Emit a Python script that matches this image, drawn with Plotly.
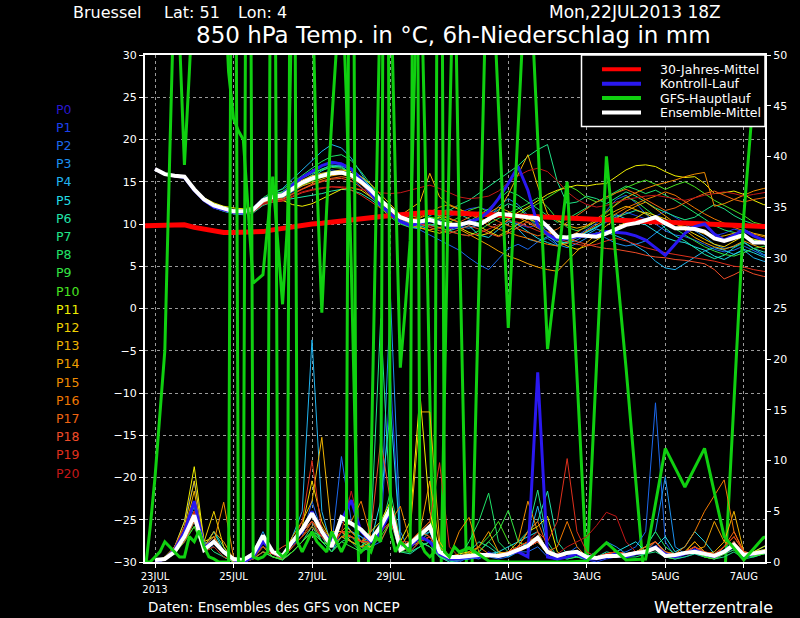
#!/usr/bin/env python3
# GFS ensemble meteogram, Bruessel 22JUL2013 18Z: 850 hPa temperature + 6h precipitation

from datetime import datetime, timedelta
import plotly.graph_objects as go

# ---- data ---------------------------------------------------------------
# 6-hourly ensemble output, 23JUL 00Z ... 7AUG 18Z (64 steps)
t6 = [datetime(2013, 7, 23, 0) + timedelta(hours=6 * i) for i in range(64)]
# climatology, 22JUL 18Z ... 7AUG 18Z
t_clim = [datetime(2013, 7, 22, 18) + timedelta(hours=6 * i) for i in range(65)]
# GFS main run: 3-hourly to 30JUL 18Z, then 12-hourly
t_gfs = ([datetime(2013, 7, 22, 18) + timedelta(hours=3 * i) for i in range(65)] +
         [datetime(2013, 7, 31, 0) + timedelta(hours=12 * i) for i in range(17)])

member_names = ["P%d" % i for i in range(21)]
member_colors = ["#2a18d0", "#1c40ec", "#1c68ec", "#1c90f0", "#20b4f0", "#20dce4", "#20e4a8",
                 "#20e488", "#20e468", "#34e444", "#48e420", "#f0f000", "#f0d200", "#f0b400",
                 "#f0a000", "#f08c00", "#f07800", "#f06410", "#f04c28", "#e0301c", "#c41818"]

clim_temp = [9.8, 9.8, 9.85, 9.9, 9.9, 9.6, 9.4, 9.1,
             9.0, 9.0, 9.0, 9.05, 9.1, 9.3, 9.5, 9.7,
             9.85, 10.0, 10.1, 10.25, 10.4, 10.5, 10.6, 10.75,
             10.9, 11.0, 11.1, 11.25, 11.35, 11.4, 11.35, 11.3,
             11.2, 11.1, 11.05, 11.0, 10.95, 10.9, 10.85, 10.8,
             10.75, 10.7, 10.65, 10.6, 10.55, 10.5, 10.45, 10.4,
             10.4, 10.35, 10.3, 10.25, 10.2, 10.15, 10.1, 10.1,
             10.05, 10.0, 9.95, 9.9, 9.85, 9.8, 9.75, 9.7,
             9.65]

ctrl_temp = [16.5, 15.9, 15.7, 15.5, 14.0, 12.8, 12.0, 11.7,
             11.4, 11.3, 11.8, 12.9, 13.3, 13.5, 14.6, 15.5,
             16.2, 16.9, 17.3, 17.1, 16.5, 15.2, 13.6, 12.2,
             11.2, 10.3, 9.8, 10.1, 10.4, 10.2, 9.6, 9.7,
             10.3, 10.6, 11.5, 13.0, 14.8, 16.8, 14.0, 9.8,
             8.8, 8.1, 8.3, 8.5, 8.6, 8.8, 9.1, 9.0,
             8.9, 8.6, 8.1, 7.2, 6.3, 7.6, 8.9, 9.7,
             10.0, 8.8, 8.1, 8.7, 9.3, 8.6, 8.1, 8.0]

mean_temp = [16.5, 15.9, 15.7, 15.6, 14.1, 12.9, 12.2, 11.8,
             11.5, 11.5, 11.7, 12.8, 13.2, 13.4, 14.2, 14.9,
             15.4, 15.7, 16.0, 16.1, 15.8, 15.0, 14.0, 12.8,
             11.8, 10.8, 10.4, 10.3, 10.5, 10.1, 9.9, 9.9,
             10.2, 9.9, 10.6, 11.2, 11.1, 10.9, 10.8, 10.7,
             9.7, 8.5, 8.4, 8.7, 8.6, 8.5, 8.9, 9.4,
             9.9, 10.1, 10.5, 10.8, 10.1, 9.5, 9.5, 9.4,
             9.1, 8.3, 8.0, 8.3, 8.7, 7.8, 7.8, 7.6]

member_temp = [
    # P1
    [16.4, 15.9, 15.8, 15.6, 14.2, 13.0, 12.1, 11.7, 11.6, 11.4, 11.9, 12.9, 13.4, 13.8, 14.8, 15.6,
     16.3, 16.9, 17.4, 17.2, 16.6, 15.6, 14.2, 12.6, 11.4, 10.6, 10.1, 9.8, 10.2, 10.5, 10.9, 11.3,
     11.8, 12.0, 11.6, 11.2, 10.5, 10.0, 9.6, 9.9, 9.4, 8.6, 8.1, 8.4, 9.0, 9.6, 10.2, 10.9,
     11.4, 11.0, 10.6, 10.9, 11.5, 10.8, 10.1, 9.6, 9.0, 8.6, 8.9, 9.4, 9.1, 8.6, 8.2, 8.0],
    # P2
    [16.6, 15.9, 15.6, 15.5, 14.0, 12.8, 12.3, 11.9, 11.4, 11.6, 11.8, 12.6, 13.0, 13.1, 13.8, 14.6,
     15.2, 15.9, 16.4, 16.2, 15.4, 14.4, 13.2, 12.0, 11.3, 10.6, 9.9, 9.3, 8.7, 8.1, 7.5, 6.9,
     6.0, 5.2, 4.6, 5.8, 7.1, 7.6, 7.0, 7.9, 8.3, 7.5, 7.9, 8.6, 9.4, 10.1, 11.6, 12.9,
     13.4, 12.5, 11.2, 10.0, 9.2, 8.7, 8.5, 8.1, 7.6, 7.0, 6.7, 6.9, 7.4, 6.8, 6.3, 6.0],
    # P3
    [16.5, 15.8, 15.7, 15.7, 14.2, 12.9, 12.2, 11.8, 11.6, 11.5, 11.6, 12.5, 13.3, 13.5, 14.3, 15.1,
     15.8, 16.5, 17.0, 16.8, 16.0, 14.9, 13.6, 12.3, 11.2, 10.2, 9.6, 9.4, 9.8, 10.3, 10.1, 9.7,
     9.5, 9.9, 10.6, 12.1, 13.0, 12.3, 11.0, 9.8, 8.7, 7.6, 7.2, 7.7, 8.4, 9.0, 8.3, 7.7,
     7.4, 7.6, 8.0, 8.9, 9.8, 10.4, 10.0, 9.2, 8.5, 7.6, 7.1, 7.3, 7.9, 7.1, 6.4, 6.2],
    # P4
    [16.6, 16.0, 15.7, 15.6, 14.1, 12.8, 12.0, 11.6, 11.2, 11.3, 11.6, 12.9, 13.6, 14.2, 15.3, 16.4,
     17.5, 18.6, 19.4, 19.0, 17.8, 16.0, 14.2, 12.4, 11.0, 10.1, 9.6, 9.7, 9.9, 9.5, 9.2, 9.6,
     10.1, 9.8, 10.4, 11.0, 10.6, 9.4, 8.2, 7.9, 8.5, 8.0, 7.7, 8.1, 8.8, 9.4, 9.0, 8.6,
     8.1, 7.4, 6.7, 5.6, 4.8, 4.6, 5.3, 6.1, 6.8, 7.2, 6.9, 6.4, 6.9, 6.0, 5.6, 5.4],
    # P5
    [16.4, 15.8, 15.6, 15.6, 14.0, 12.7, 11.9, 11.5, 11.2, 11.1, 11.5, 12.7, 13.1, 13.2, 13.9, 14.7,
     15.6, 16.3, 16.8, 16.9, 16.4, 15.5, 14.4, 13.0, 11.9, 10.9, 10.5, 10.4, 10.8, 10.3, 9.9, 9.4,
     9.8, 8.7, 8.4, 9.4, 10.3, 9.9, 9.1, 8.3, 7.8, 7.4, 7.9, 8.5, 9.0, 9.6, 10.4, 11.1,
     10.6, 10.2, 9.9, 9.1, 8.4, 8.0, 7.8, 7.3, 6.9, 6.2, 5.8, 6.4, 7.0, 6.6, 6.1, 5.9],
    # P6
    [16.5, 15.9, 15.7, 15.5, 14.1, 12.9, 12.3, 11.9, 11.3, 11.2, 11.3, 12.2, 12.6, 12.8, 13.0, 13.2,
     13.4, 13.6, 13.9, 14.1, 14.0, 13.6, 12.9, 12.0, 11.1, 10.4, 9.9, 10.3, 11.0, 11.5, 11.7, 11.2,
     10.6, 10.1, 10.8, 11.7, 12.4, 12.0, 10.8, 9.6, 8.6, 7.9, 7.8, 8.4, 9.1, 9.7, 10.3, 10.8,
     11.2, 11.6, 11.3, 10.6, 9.5, 8.6, 8.0, 7.2, 6.4, 5.9, 6.3, 7.2, 7.8, 7.1, 6.7, 6.5],
    # P7
    [16.5, 15.9, 15.8, 15.7, 14.2, 13.0, 12.4, 12.0, 11.7, 11.6, 11.9, 13.0, 13.5, 13.8, 14.6, 15.4,
     16.0, 16.5, 16.9, 16.7, 16.0, 15.1, 14.2, 13.0, 11.9, 10.9, 10.3, 10.0, 10.4, 10.9, 11.6, 12.3,
     12.8, 13.6, 14.5, 15.2, 16.0, 16.9, 18.0, 18.8, 19.4, 15.0, 12.4, 12.6, 13.3, 13.0, 12.4, 13.1,
     13.8, 13.3, 12.6, 11.9, 11.4, 10.9, 10.5, 10.8, 11.6, 12.3, 11.8, 11.0, 10.4, 10.0, 9.8, 9.6],
    # P8
    [16.5, 15.9, 15.7, 15.6, 14.1, 13.0, 12.3, 11.9, 11.6, 11.6, 11.9, 13.1, 13.8, 14.1, 14.9, 15.8,
     16.6, 17.4, 18.0, 18.2, 17.5, 16.2, 14.7, 13.1, 11.8, 10.6, 10.1, 10.2, 10.6, 10.4, 10.0, 9.8,
     10.3, 11.0, 11.8, 12.9, 13.9, 13.4, 12.6, 11.7, 10.9, 10.2, 10.6, 11.3, 11.9, 12.6, 13.2, 13.9,
     14.5, 14.1, 13.6, 14.0, 13.4, 12.8, 12.1, 11.4, 10.6, 9.8, 9.3, 9.0, 8.5, 8.1, 7.9, 7.7],
    # P9
    [16.5, 15.9, 15.7, 15.6, 14.1, 12.9, 12.2, 11.8, 11.5, 11.5, 11.8, 13.0, 13.5, 13.8, 14.7, 15.5,
     16.0, 16.4, 16.7, 16.6, 16.0, 14.9, 13.4, 11.9, 10.8, 10.0, 9.6, 9.6, 10.0, 9.6, 9.2, 8.8,
     8.6, 9.2, 10.0, 10.7, 11.3, 11.8, 12.4, 13.1, 12.0, 10.6, 9.6, 9.2, 9.6, 10.4, 11.3, 12.4,
     13.2, 12.7, 11.8, 10.9, 10.2, 9.4, 8.7, 8.0, 7.3, 6.8, 6.4, 6.2, 6.6, 7.1, 7.4, 7.6],
    # P10
    [16.5, 15.9, 15.7, 15.6, 14.1, 12.9, 12.2, 11.8, 11.5, 11.4, 11.6, 12.6, 13.0, 13.2, 13.9, 14.6,
     15.1, 15.5, 15.8, 15.9, 15.6, 14.9, 14.0, 12.9, 11.9, 11.0, 10.5, 10.4, 10.8, 10.6, 10.2, 10.8,
     11.6, 12.0, 11.4, 10.9, 10.6, 11.0, 11.8, 12.4, 13.1, 13.9, 14.6, 14.0, 13.1, 12.6, 13.0, 13.7,
     14.3, 14.8, 15.2, 14.7, 14.1, 14.6, 15.0, 14.4, 13.6, 12.8, 12.2, 11.6, 11.0, 10.2, 9.9, 9.6],
    # P11
    [16.6, 16.0, 15.8, 15.7, 14.3, 13.1, 12.5, 12.1, 11.9, 11.8, 12.0, 12.9, 13.0, 12.8, 12.3, 12.1,
     12.4, 13.0, 13.6, 14.1, 14.3, 14.0, 13.2, 12.4, 11.6, 10.8, 10.1, 9.9, 10.4, 10.8, 10.3, 9.6,
     9.0, 8.6, 8.9, 9.7, 10.6, 11.4, 12.0, 12.8, 13.5, 14.0, 14.3, 14.6, 14.5, 14.7, 14.8, 15.6,
     16.4, 16.9, 17.0, 16.8, 16.2, 15.7, 15.5, 15.6, 14.8, 13.6, 13.7, 13.9, 13.5, 12.8, 12.3, 12.1],
    # P12
    [16.5, 15.9, 15.7, 15.6, 14.2, 13.0, 12.3, 11.9, 11.6, 11.5, 11.8, 12.9, 13.4, 13.6, 14.5, 15.2,
     15.7, 16.0, 16.2, 16.4, 16.2, 15.6, 14.7, 13.5, 12.3, 11.1, 10.2, 9.6, 9.2, 8.9, 9.3, 9.9,
     10.4, 9.7, 9.1, 8.6, 9.2, 10.0, 10.6, 10.2, 9.0, 8.0, 7.4, 7.0, 7.4, 8.1, 8.9, 9.6,
     10.2, 10.7, 11.4, 11.0, 10.6, 10.1, 9.4, 8.8, 8.2, 7.6, 7.3, 7.9, 8.6, 8.2, 7.9, 7.7],
    # P13
    [16.4, 15.8, 15.6, 15.5, 14.0, 12.8, 12.1, 11.7, 11.4, 11.4, 11.6, 12.7, 13.1, 13.3, 14.0, 14.7,
     15.2, 15.6, 16.0, 16.0, 15.6, 14.8, 13.8, 12.6, 11.7, 11.0, 11.8, 12.6, 16.0, 13.2, 12.2, 11.7,
     11.3, 10.8, 10.2, 11.5, 13.5, 15.8, 18.2, 14.5, 11.2, 10.4, 9.8, 9.5, 9.8, 10.3, 10.9, 11.6,
     12.1, 11.7, 11.2, 10.7, 10.3, 10.0, 9.7, 9.3, 8.8, 8.4, 8.6, 8.9, 9.3, 8.9, 8.6, 8.4],
    # P14
    [16.6, 16.0, 15.7, 15.6, 14.1, 12.9, 12.2, 11.8, 11.5, 11.6, 11.9, 12.9, 13.2, 13.3, 13.9, 14.5,
     14.9, 15.3, 15.7, 15.9, 15.6, 14.7, 13.5, 12.3, 11.2, 10.3, 9.9, 9.5, 9.3, 9.6, 9.9, 9.4,
     8.8, 8.1, 7.5, 6.8, 6.2, 5.8, 5.3, 4.9, 4.6, 4.4, 5.6, 6.8, 7.8, 8.8, 9.8, 10.6,
     11.5, 12.1, 12.6, 11.8, 10.9, 10.1, 9.3, 8.4, 7.8, 7.3, 7.0, 7.4, 8.0, 7.5, 7.1, 6.9],
    # P15
    [16.5, 15.9, 15.7, 15.6, 14.0, 12.8, 12.0, 11.6, 11.3, 11.4, 11.7, 12.8, 13.3, 13.5, 14.2, 14.9,
     15.5, 15.8, 16.0, 16.1, 15.9, 15.1, 14.1, 12.9, 11.9, 11.0, 10.5, 10.7, 11.2, 11.0, 10.6, 10.2,
     10.0, 10.6, 11.3, 12.0, 11.5, 10.8, 10.1, 9.5, 9.0, 8.6, 8.4, 9.0, 9.8, 10.6, 11.4, 12.2,
     13.1, 13.7, 14.2, 14.6, 14.9, 15.2, 15.6, 15.9, 16.1, 12.1, 12.4, 12.9, 13.4, 13.9, 14.2, 14.4],
    # P16
    [16.5, 15.9, 15.7, 15.6, 14.1, 12.9, 12.2, 11.8, 11.5, 11.5, 11.7, 12.8, 13.2, 13.4, 14.2, 14.9,
     15.4, 15.7, 16.0, 16.1, 15.8, 15.0, 14.0, 12.8, 11.8, 10.9, 10.6, 10.8, 11.4, 12.0, 12.3, 11.8,
     11.2, 10.6, 9.8, 9.4, 9.0, 8.6, 8.3, 7.9, 7.6, 7.4, 7.7, 8.5, 9.2, 9.9, 10.6, 11.2,
     11.9, 12.4, 12.9, 13.3, 13.8, 13.4, 12.6, 11.9, 11.2, 10.6, 10.1, 9.6, 9.2, 8.8, 8.5, 8.3],
    # P17
    [16.4, 15.8, 15.6, 15.5, 14.0, 12.8, 12.1, 11.7, 11.4, 11.4, 11.6, 12.6, 12.9, 13.0, 13.6, 14.2,
     14.7, 15.1, 15.4, 15.6, 15.4, 14.7, 13.8, 12.7, 11.8, 11.1, 10.8, 11.0, 11.6, 11.2, 10.7, 10.2,
     10.8, 11.4, 10.9, 10.3, 9.8, 9.4, 9.0, 8.6, 8.9, 9.4, 10.2, 11.0, 11.9, 12.6, 13.2, 13.7,
     14.1, 13.6, 12.9, 12.2, 11.6, 11.9, 12.5, 13.1, 13.6, 13.9, 13.4, 12.9, 12.6, 12.9, 13.1, 13.3],
    # P18
    [16.6, 16.0, 15.8, 15.6, 14.1, 12.9, 12.1, 11.6, 11.3, 11.3, 11.5, 12.5, 12.8, 12.9, 13.5, 14.1,
     14.6, 15.0, 15.3, 15.4, 15.1, 14.3, 13.3, 12.2, 11.3, 10.6, 10.3, 10.0, 9.6, 9.2, 8.9, 9.3,
     9.8, 9.4, 8.9, 8.5, 8.9, 9.6, 10.3, 9.7, 9.1, 8.7, 8.3, 7.9, 7.6, 7.3, 7.1, 7.0,
     6.8, 6.6, 6.3, 6.1, 6.0, 5.8, 5.7, 5.5, 5.3, 4.6, 3.5, 4.0, 4.6, 4.1, 3.8, 3.7],
    # P19
    [16.5, 15.9, 15.6, 15.5, 14.0, 12.7, 12.0, 11.6, 11.3, 11.2, 11.4, 12.3, 12.6, 12.7, 13.2, 13.7,
     14.0, 14.2, 14.4, 14.3, 14.0, 13.4, 12.6, 11.8, 11.1, 10.6, 10.2, 10.0, 9.8, 9.5, 9.1, 8.8,
     8.6, 8.9, 9.4, 9.9, 10.4, 10.2, 9.7, 9.2, 8.8, 8.3, 7.9, 7.6, 7.4, 7.6, 8.0, 8.3,
     8.0, 7.6, 7.2, 6.9, 6.6, 6.4, 6.2, 6.0, 5.8, 5.6, 5.3, 5.0, 4.9, 4.6, 4.4, 4.3],
    # P20
    [16.5, 15.9, 15.7, 15.5, 14.0, 12.8, 12.0, 11.6, 11.3, 11.3, 11.5, 12.4, 12.7, 12.8, 13.3, 13.8,
     14.1, 14.3, 14.4, 14.4, 14.3, 14.1, 13.9, 13.7, 13.6, 13.7, 14.0, 14.3, 14.6, 14.2, 13.7, 13.2,
     13.0, 13.1, 13.3, 13.9, 14.9, 15.7, 16.3, 16.6, 16.2, 15.1, 13.8, 12.9, 12.3, 12.0, 12.2, 12.6,
     12.9, 13.1, 13.3, 13.4, 13.2, 13.0, 12.8, 13.1, 13.4, 13.6, 13.8, 13.6, 13.3, 13.5, 13.7, 13.9],
]

ctrl_prec = [0, 0.3, 1.2, 3, 6, 1.5, 2, 1, 0.2, 0, 0.5, 2, 1, 0.5, 2, 3,
             5, 3, 2, 4, 6.1, 3, 2, 3, 5, 1.5, 1.5, 2.5, 2, 0.8, 0.3, 0.3,
             0.5, 0.5, 0.8, 0.5, 0.8, 1, 0.5, 18.7, 0.5, 0.3, 0.5, 0.8, 0.3, 0.3, 0.5, 0.8,
             0.5, 0.8, 1, 1.5, 0.8, 0.5, 0.8, 1.2, 0.8, 0.5, 1, 1.5, 0.5, 0.8, 1, 1.2]

mean_prec = [0.2, 0.3, 1.0, 2.5, 4.6, 1.2, 2.0, 1.0, 0.3, 0.2, 0.8, 2.6, 1.0, 0.6, 2.0, 3.2,
             4.8, 3.0, 1.5, 4.4, 3.8, 3.2, 2.2, 3.5, 5.3, 1.2, 1.8, 2.6, 3.5, 1.0, 0.5, 0.5,
             0.6, 0.7, 0.7, 0.6, 0.8, 1.2, 1.6, 2.4, 1.0, 0.6, 0.9, 1.0, 0.5, 0.4, 0.6, 0.6,
             0.7, 0.9, 1.0, 1.4, 0.6, 0.7, 0.9, 1.0, 0.8, 0.6, 1.0, 1.7, 0.7, 0.9, 1.0, 1.1]

member_prec = [
    # P1
    [0, 0.2, 1.5, 4, 8, 2, 1.5, 0.5, 0, 0, 0.5, 1.5, 0.8, 0.3, 1.5, 3,
     4, 2.5, 1, 3, 2, 1.5, 1, 3, 18, 2, 1, 1.5, 2, 0.5, 0, 0.2,
     0.3, 0.5, 1, 0.5, 0.8, 1, 1.5, 2, 0.8, 0.3, 0.5, 0.8, 0.2, 0, 0.3, 0.5,
     0.5, 0.8, 1, 1.5, 0.5, 0.3, 0.5, 0.8, 0.5, 0.3, 0.8, 1.2, 0.5, 0.6, 0.8, 1],
    # P2
    [0, 0.3, 1, 3, 6, 1, 2, 1, 0.2, 0, 0.3, 2, 1, 0.5, 1.5, 2.5,
     6, 3, 1.5, 10.4, 4, 2, 1.5, 2, 4, 1, 1.5, 2, 1.5, 0.5, 0.2, 0,
     0.5, 0.8, 0.5, 0.3, 0.5, 1, 1, 1.5, 0.5, 0.2, 0.8, 1.5, 0.5, 0.3, 0.5, 0.8,
     1, 1.5, 3, 15.7, 2, 0.5, 0.8, 1.2, 0.8, 0.5, 1, 1.5, 0.5, 0.8, 1, 0.8],
    # P3
    [0, 0.2, 0.8, 2.5, 5, 1.5, 2.5, 1, 0, 0.3, 1, 3, 1, 0.5, 2, 3.5,
     5, 3, 2, 4.5, 3, 2.5, 2, 4, 26, 3, 1, 2, 2.5, 0.8, 0.3, 0.5,
     0.5, 0.3, 0.8, 0.5, 1, 1.2, 2, 2.5, 1, 0.5, 0.8, 1, 0.5, 1, 2, 1.5,
     0.8, 1, 1.5, 3, 8.4, 1.5, 0.8, 1, 0.5, 0.8, 1.2, 2, 0.8, 1, 1.2, 1.5],
    # P4
    [0, 0.3, 1.2, 3, 5.5, 1, 2, 0.8, 0, 0, 0.5, 2.5, 0.8, 0.3, 2.5, 5,
     21.9, 5, 1.5, 4, 3, 2.5, 1.5, 3, 6, 1.5, 1, 2, 3, 0.5, 0.3, 0.2,
     0.3, 0.5, 0.8, 1, 0.5, 1, 2, 5.5, 1.5, 0.5, 0.5, 1, 0.3, 0.5, 0.5, 1,
     0.5, 0.8, 1, 2, 1, 0.5, 0.8, 1.5, 1, 0.5, 1, 1.5, 0.5, 0.8, 1, 1.2],
    # P5
    [0, 0.2, 1, 2.5, 4.5, 1.5, 3, 1, 0.3, 0, 0.8, 2, 1, 0.5, 2, 3,
     5, 3, 2, 3, 4, 3, 2, 6, 15, 2, 1.5, 2.5, 3, 1, 0.3, 0.5,
     0.8, 0.5, 0.5, 1, 1.5, 2, 2.5, 3, 1, 0.5, 0.8, 1, 0.5, 0.3, 0.8, 1,
     1.5, 2, 1, 1.5, 2.5, 1, 1.5, 3, 2, 0.8, 1, 1.5, 0.8, 1, 1.5, 2],
    # P6
    [0, 0.3, 1, 2, 4, 1.5, 3, 1.5, 0, 0.2, 0.5, 1.5, 0.5, 0.3, 1, 2,
     3, 2, 1, 2.5, 2, 1.5, 2.5, 3, 5, 1, 0.8, 1.5, 2, 0.5, 0.2, 0.3,
     1, 2, 1.5, 0.8, 1, 2, 3, 4, 7, 2, 0.8, 0.5, 0.3, 0.5, 1, 0.8,
     0.5, 0.8, 1, 1.5, 0.8, 0.5, 1, 1.5, 0.8, 0.5, 1, 2, 0.8, 0.5, 0.8, 1],
    # P7
    [0, 0.2, 1.2, 3, 5, 2, 1, 0.5, 0, 0, 0.3, 1, 0.5, 0.2, 1, 2,
     3.5, 2, 1, 2, 2.5, 1.5, 3, 24, 5, 1.5, 1, 2, 1.5, 0.5, 0, 0.2,
     0.5, 1, 2, 1, 0.8, 1.5, 3, 7.1, 2, 0.5, 0.3, 0.5, 0.2, 0.3, 0.5, 0.8,
     0.5, 0.5, 0.8, 1, 0.5, 0.3, 0.5, 0.8, 0.5, 0.3, 0.5, 1, 0.3, 0.5, 0.8, 1],
    # P8
    [0, 0.3, 1, 2.5, 4, 1, 2, 1, 0.2, 0, 0.5, 1.5, 1, 0.5, 1.5, 2.5,
     4, 2, 1.5, 3, 2, 1, 1.5, 3, 7, 2, 1, 1.5, 2, 0.5, 0.3, 0.5,
     2, 4, 6.8, 2, 1, 1, 1.5, 2, 1, 0.5, 0.3, 0.5, 0.3, 0.5, 0.8, 1,
     0.8, 1, 1.5, 3, 1.5, 0.8, 1, 1.5, 0.8, 0.5, 1, 1.5, 0.5, 0.8, 1, 1.2],
    # P9
    [0, 0.2, 0.8, 2, 3.5, 1, 1.5, 0.5, 0, 0, 0.3, 1, 0.5, 0.2, 1, 2,
     3, 2.5, 1, 2, 1.5, 1, 2, 3, 5, 1, 1, 2, 1.5, 0.5, 0.2, 0.3,
     0.5, 1, 2, 3, 5.1, 2, 1.5, 2.5, 1, 0.5, 0.5, 0.8, 0.3, 0.5, 0.8, 1,
     0.5, 0.8, 1, 1.5, 0.5, 0.3, 0.8, 1, 0.5, 0.3, 0.8, 1.2, 0.5, 0.6, 0.8, 1],
    # P10
    [0, 0.2, 1, 2, 3.5, 1.5, 2, 0.8, 0, 0, 0.3, 1.5, 0.5, 0.3, 1, 2,
     3, 2, 1.5, 2.5, 3, 2, 1.5, 2.5, 4, 1, 1.5, 2.5, 2, 0.8, 0.3, 0.2,
     0.5, 1.5, 2.5, 4, 2, 1, 1.5, 2, 0.8, 0.5, 0.5, 0.8, 0.3, 0.3, 0.5, 0.8,
     0.5, 0.8, 1, 1.5, 0.8, 0.5, 0.8, 1.2, 0.5, 0.3, 0.8, 1.5, 0.5, 0.6, 0.8, 1],
    # P11
    [0, 0.5, 1.5, 4, 9.4, 2, 2.5, 1, 0, 0.3, 0.5, 2, 1, 0.5, 2, 3,
     4, 3, 2, 4, 3, 2, 3, 4, 6, 2, 4, 16.6, 5, 1, 0.5, 0.8,
     1, 0.5, 0.8, 0.5, 0.8, 1.5, 3, 3.5, 4.5, 1, 0.5, 0.8, 0.3, 0.5, 0.5, 0.8,
     0.5, 0.8, 1, 1.5, 0.8, 0.5, 1, 2, 1, 0.5, 1, 1.5, 0.8, 1, 1.5, 2],
    # P12
    [0, 0.3, 1.5, 3.5, 8, 2, 5, 1.5, 0.3, 0, 0.5, 2, 1, 0.5, 2, 3.5,
     8, 4, 2, 3, 2.5, 2, 2, 3, 5, 1.5, 2, 3, 4, 1, 0.5, 0.5,
     0.8, 0.5, 0.5, 0.8, 1, 1.5, 2, 2.5, 1, 0.5, 0.8, 1, 0.5, 0.3, 0.5, 0.8,
     0.5, 1, 1.5, 2, 1, 0.5, 0.8, 1.5, 0.8, 0.5, 1, 2, 0.8, 1, 1.2, 1.5],
    # P13
    [0, 0.3, 1.2, 3, 7, 1.5, 2, 1, 0, 0, 0.5, 2, 1, 0.5, 2.5, 4,
     6, 12.3, 3, 3, 2, 1.5, 1.5, 3, 5, 1.5, 3, 14.8, 14.8, 2, 0.5, 0.5,
     0.5, 0.5, 0.8, 0.5, 0.8, 1, 1.5, 2, 0.8, 0.5, 0.5, 0.8, 0.3, 0.5, 0.8, 1,
     0.8, 1, 1.2, 1.5, 0.8, 0.5, 0.8, 1, 0.8, 1, 2, 5, 1, 0.8, 1, 1.5],
    # P14
    [0, 0.2, 1, 2.5, 5, 1.5, 3, 2, 0.3, 0, 0.5, 1.5, 0.8, 0.5, 1.5, 2.5,
     4, 3, 1.5, 2.5, 2, 1.5, 2, 3, 4, 1.5, 2, 3, 8, 1.5, 0.5, 0.5,
     0.8, 1.5, 3, 1, 0.8, 1, 1.5, 2, 1, 0.5, 0.5, 0.8, 0.5, 0.3, 0.5, 0.8,
     0.5, 0.8, 1, 1.5, 0.8, 0.5, 0.8, 1.2, 1.5, 4, 2, 1.5, 0.8, 0.8, 1, 1.2],
    # P15
    [0, 0.3, 1, 3, 6, 1.5, 2, 5.9, 0.5, 0, 0.5, 2, 1, 0.5, 2, 3,
     5, 3.5, 2, 3, 2.5, 2, 2.5, 3, 4, 5.5, 2, 2, 2.5, 1, 0.5, 3,
     4.4, 1, 0.5, 0.8, 1, 2, 6, 3, 1, 0.5, 0.5, 0.8, 0.5, 0.3, 0.8, 1,
     0.5, 0.8, 1, 1.5, 0.8, 0.5, 1, 2, 1, 0.8, 1.5, 2.5, 1, 0.8, 1, 1.2],
    # P16
    [0, 0.2, 1, 2.5, 4.5, 1, 2, 1, 0.2, 0, 0.5, 1.5, 0.8, 0.3, 1.5, 2.5,
     3.5, 2.5, 1.5, 3, 4, 6, 2.5, 2, 4, 2, 1.5, 2, 2.5, 1, 0.3, 0.5,
     1, 1.5, 0.8, 0.5, 1, 1.5, 2, 2.5, 1, 1.5, 4, 1.5, 0.5, 0.3, 0.5, 0.8,
     0.5, 0.8, 1, 1.5, 1, 0.8, 1.5, 3, 5, 6.5, 8.1, 3, 1, 0.8, 1, 1.2],
    # P17
    [0, 0.3, 1.2, 3, 5, 1.5, 2.5, 1, 0.3, 0.2, 1, 2.4, 1, 0.5, 2, 3,
     4.5, 3, 1.5, 2.5, 2.5, 2, 2, 3, 5, 1.5, 2, 3, 2.5, 1, 0.5, 0.5,
     0.5, 0.5, 0.8, 0.5, 1, 1.5, 3, 4, 1.5, 0.5, 0.8, 1, 0.5, 0.5, 0.8, 1,
     0.8, 1, 1.5, 2, 1, 0.8, 1, 1.5, 0.8, 0.5, 1.5, 3, 1, 0.8, 1, 1.5],
    # P18
    [0, 0.2, 1, 2, 4, 1.5, 2, 1, 0.2, 0, 0.3, 1, 0.8, 1.5, 2, 3,
     4, 2.5, 1.5, 3, 3, 2, 3, 12, 6, 2, 1, 2, 2.5, 1, 0.3, 0.5,
     0.5, 0.5, 0.8, 0.5, 0.8, 1, 1.5, 2, 1, 0.5, 0.5, 1, 0.5, 0.5, 0.8, 1,
     0.8, 1, 1.2, 2, 0.8, 0.5, 1, 1.5, 0.8, 0.5, 1, 2, 0.8, 0.8, 1, 1.2],
    # P19
    [0, 0.3, 1.5, 3.5, 6, 1.5, 2, 1, 0.3, 0, 0.5, 2, 1, 0.5, 2, 4,
     10, 3, 2, 3, 2.5, 2, 2, 3, 5, 2, 2, 3, 4, 9.8, 1.5, 0.5,
     0.5, 0.5, 0.8, 0.5, 1, 1.5, 2, 3, 2, 4, 10.2, 3, 1, 0.5, 0.8, 1,
     0.8, 1, 1, 1.5, 0.8, 0.5, 1, 1.5, 1, 0.8, 1.5, 2.5, 1, 0.8, 1, 1.2],
    # P20
    [0, 0.2, 1, 2.5, 5, 1, 1.5, 0.5, 0.2, 0, 0.3, 1.5, 0.8, 0.5, 1.5, 2.5,
     4, 2.5, 1.5, 3, 7, 3, 2, 3, 4, 1.5, 1, 2, 2.5, 1, 0.5, 0.5,
     0.5, 0.5, 0.8, 0.5, 0.8, 1, 1.5, 2, 1, 0.8, 1.5, 2, 2.5, 3.6, 4.9, 4.5,
     2, 1, 1, 1.5, 0.8, 0.5, 0.8, 1.2, 0.8, 0.5, 1, 2, 0.8, 0.8, 1, 1.2],
]

# GFS main run (as plotted: temperature curve and precipitation curve)
gfs_temp = [-31, -26, -20, -13, -5, 18, 40, 32, 17, 28,
            40, 45, 45, 45, 45, 45, 40, 28, 22.5, 21,
            20, 11, 3, 3.5, 4, 10, 15.6, 8, 0.5, 10,
            40, 45, 45, 45, 40, 15, -0.5, 12, 22, 30,
            40, 25, 5, -20, -40, -40, -20, 10, 40, 45,
            40, 15, -7, 0, 8, 30, 45, 20, -10, -40,
            -40, -10, 20, 45, 10,
            -45, 50, -2.3, 45, -4.8, 15, -31, 18, -7, -34,
            -45, -45, -45, -33, 11, 40, 60]

gfs_prec = [0, 0, 0.5, 1, 2, 1.5, 1, 0.5, 0.5, 2.5,
            2, 3.1, 1.5, 0.5, 0.3, 0, 0, 0, 120, 0,
            0, 120, 0.5, 0.3, 0.5, 1, 120, 1, 0.5, 1,
            120, 2, 1, 2, 3, 2, 1.5, 1, 3, 2,
            1, 2, 120, 2, 1, 1.5, 1, 2.5, 2, 120,
            3, 1, 2, 1.5, 1, 120, 2, 1, 0.5, 1,
            120, 1, 0.5, 1.5, 1,
            1.4, 0.1, 0, 0, 0, 0, 0.1, 1.9, 0.2, 0.3,
            11.2, 7.4, 11.2, 2.5, 0.2, 2.4, 3]

tick_dates = ["2013-07-23", "2013-07-25", "2013-07-27", "2013-07-29",
              "2013-08-01", "2013-08-03", "2013-08-05", "2013-08-07"]
tick_text = ["23JUL<br>2013", "25JUL", "27JUL", "29JUL", "1AUG", "3AUG", "5AUG", "7AUG"]

legend_names = ["30-Jahres-Mittel", "Kontroll-Lauf", "GFS-Hauptlauf", "Ensemble-Mittel"]
legend_colors = ["#ff0000", "#2a18f0", "#10d010", "#ffffff"]

for lst in member_temp + member_prec + [ctrl_temp, mean_temp, ctrl_prec, mean_prec]:
    assert len(lst) == 64, len(lst)
assert len(gfs_temp) == len(t_gfs) and len(gfs_prec) == len(t_gfs)

# ---- figure -------------------------------------------------------------
FONT = "DejaVu Sans"
L, R, T, B = 145, 765, 55, 562


def px(x):
    return (x - L) / (R - L)


def py(y):
    return (B - y) / (B - T)


fig = go.Figure()

# ensemble member temperatures
for name, col, vals in zip(member_names[1:], member_colors[1:], member_temp):
    fig.add_trace(go.Scatter(x=t6, y=vals, mode="lines", line=dict(color=col, width=1),
                             name=name, hoverinfo="skip"))

fig.add_trace(go.Scatter(x=t_clim, y=clim_temp, mode="lines",
                         line=dict(color="#ff0000", width=5), hoverinfo="skip"))
fig.add_trace(go.Scatter(x=t6, y=ctrl_temp, mode="lines",
                         line=dict(color="#2a18f0", width=3), hoverinfo="skip"))
fig.add_trace(go.Scatter(x=t6, y=mean_temp, mode="lines",
                         line=dict(color="#ffffff", width=4), hoverinfo="skip"))
fig.add_trace(go.Scatter(x=t_gfs, y=gfs_temp, mode="lines",
                         line=dict(color="#10d010", width=3), hoverinfo="skip"))

# precipitation on the right axis
for name, col, vals in zip(member_names[1:], member_colors[1:], member_prec):
    fig.add_trace(go.Scatter(x=t6, y=vals, mode="lines", line=dict(color=col, width=1),
                             name=name, yaxis="y2", hoverinfo="skip"))
fig.add_trace(go.Scatter(x=t6, y=ctrl_prec, mode="lines", yaxis="y2",
                         line=dict(color="#2a18f0", width=3), hoverinfo="skip"))
fig.add_trace(go.Scatter(x=t6, y=mean_prec, mode="lines", yaxis="y2",
                         line=dict(color="#ffffff", width=4), hoverinfo="skip"))
fig.add_trace(go.Scatter(x=t_gfs, y=gfs_prec, mode="lines", yaxis="y2",
                         line=dict(color="#10d010", width=3), hoverinfo="skip"))

axis_common = dict(showline=True, linecolor="white", linewidth=2, ticks="outside",
                   ticklen=4, tickcolor="white", tickwidth=1, zeroline=False,
                   tickfont=dict(family=FONT, size=11, color="white"))

fig.update_layout(
    width=800, height=618,
    margin=dict(l=L, r=800 - R, t=T, b=618 - B),
    paper_bgcolor="black", plot_bgcolor="black",
    showlegend=False,
    xaxis=dict(axis_common, type="date",
               range=["2013-07-22 17:53", "2013-08-07 12:58"],
               tickvals=tick_dates, ticktext=tick_text, mirror=True,
               showgrid=True, gridcolor="#9a9a9a", griddash="dot", gridwidth=1,
               tickfont=dict(family=FONT, size=10, color="white")),
    yaxis=dict(axis_common, range=[-30, 30], tickvals=list(range(-30, 31, 5)),
               showgrid=True, gridcolor="#9a9a9a", griddash="dot", gridwidth=1),
    yaxis2=dict(axis_common, range=[0, 50], tickvals=list(range(0, 51, 5)),
                overlaying="y", side="right", showgrid=False),
)

# legend box drawn by hand (old GrADS style)
shapes = [dict(type="rect", xref="paper", yref="paper", x0=px(581.5), x1=1.0,
               y0=py(126.5), y1=1.0, fillcolor="black",
               line=dict(color="white", width=1.5), layer="above")]
annotations = []
for k, (txt, col) in enumerate(zip(legend_names, legend_colors)):
    yy = py(69.3 + 14.4 * k)
    shapes.append(dict(type="line", xref="paper", yref="paper", x0=px(602), x1=px(641),
                       y0=yy, y1=yy, line=dict(color=col, width=4), layer="above"))
    annotations.append(dict(text=txt, xref="paper", yref="paper", x=px(658), y=yy,
                            xanchor="left", yanchor="middle", showarrow=False,
                            font=dict(family=FONT, size=12.5, color="white")))

# member colour key at the left
for k, (txt, col) in enumerate(zip(member_names, member_colors)):
    annotations.append(dict(text=txt, xref="paper", yref="paper", x=px(54), y=py(109 + 18.2 * k),
                            xanchor="left", yanchor="middle", showarrow=False,
                            font=dict(family=FONT, size=12.5, color=col)))

# titles and footer
for txt, x, y, size, anchor in [
        ("Bruessel", 71, 12, 16, "left"),
        ("Lat: 51", 162, 12, 16, "left"),
        ("Lon: 4", 236, 12, 16, "left"),
        ("Mon,22JUL2013 18Z", 723, 12, 17, "right"),
        ("850 hPa Temp. in °C, 6h-Niederschlag in mm", 453, 35, 23, "center"),
        ("Daten: Ensembles des GFS von NCEP", 146, 607, 13.5, "left"),
        ("Wetterzentrale", 775, 607, 16, "right")]:
    annotations.append(dict(text=txt, xref="paper", yref="paper", x=px(x), y=py(y),
                            xanchor=anchor, yanchor="middle", showarrow=False,
                            font=dict(family=FONT, size=size, color="white")))

fig.update_layout(shapes=shapes, annotations=annotations)

# the page has a default 8px body margin; remove it so the figure sits at 0,0
fig.write_html("out.html", config={"displayModeBar": False},
               post_script="document.body.style.margin='0';"
                           "document.documentElement.style.overflow='hidden';")
